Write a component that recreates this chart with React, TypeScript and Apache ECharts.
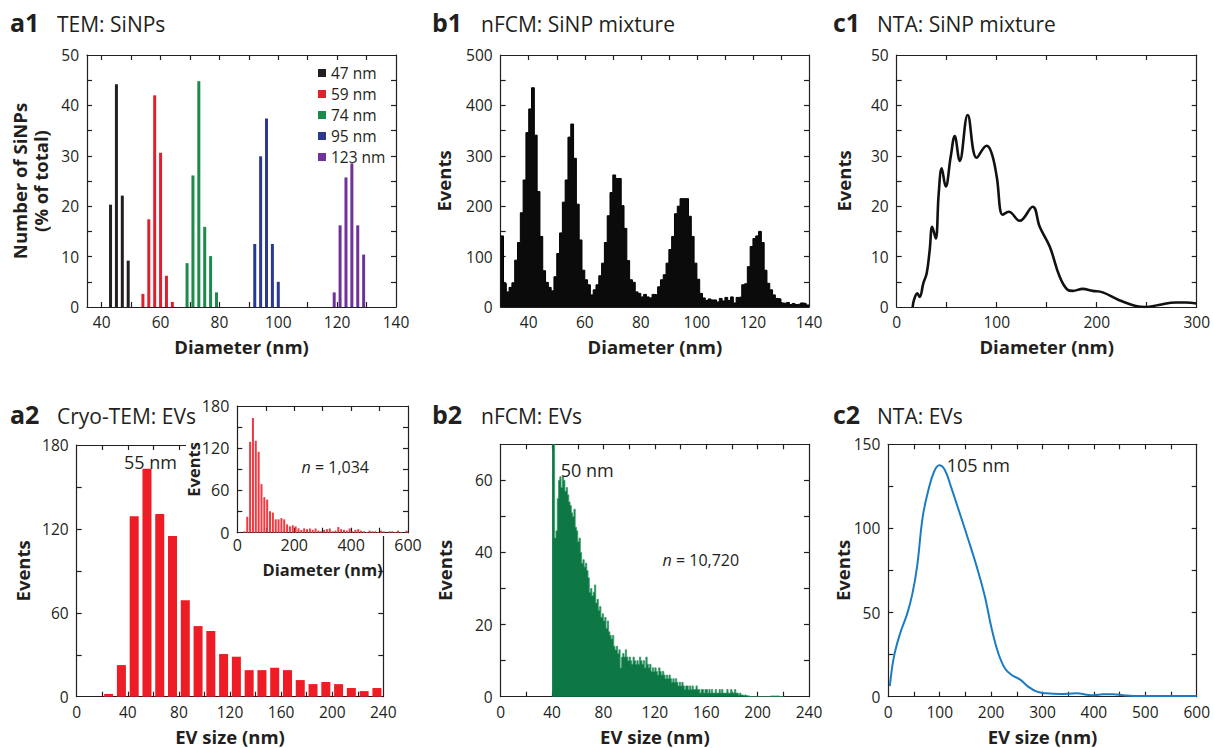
import React, { useEffect, useRef } from "react";
import * as echarts from "echarts";

const INK = "#231f20";
const FONT = "'Open Sans', 'Noto Sans', sans-serif";

// ---------- a1: TEM SiNPs ----------
const sinp47X = [43, 45, 47, 49];
const sinp47Y = [20.3, 44.2, 22.1, 9.2];
const sinp59X = [54, 56, 58, 60, 62, 64];
const sinp59Y = [2.6, 17.4, 42.0, 30.6, 6.2, 1.0];
const sinp74X = [69, 71, 73, 75, 77, 79];
const sinp74Y = [8.7, 26.1, 44.8, 15.9, 10.1, 2.9];
const sinp95X = [92, 94, 96, 98, 100];
const sinp95Y = [12.5, 29.9, 37.4, 12.5, 5.0];
const sinp123X = [119, 121, 123, 125, 127, 129];
const sinp123Y = [2.9, 16.2, 25.7, 28.5, 16.2, 10.4];
const sinpNames = ["47 nm", "59 nm", "74 nm", "95 nm", "123 nm"];
const sinpColors = ["#231f20", "#e0202e", "#1b8a4a", "#2b3990", "#6f329a"];

// ---------- b1: nFCM SiNP mixture (1 nm bins from 30 nm) ----------
const nfcmSinpStart = 30;
const nfcmSinpCounts = [
  141, 47, 30, 39, 48, 93, 128, 187, 252, 346,
  393, 435, 341, 229, 140, 72, 49, 39, 32, 60,
  106, 147, 208, 252, 337, 363, 295, 204, 133, 73,
  54, 44, 24, 34, 44, 62, 87, 128, 181, 227,
  262, 255, 255, 201, 156, 92, 54, 49, 30, 27,
  20, 25, 20, 18, 25, 24, 40, 54, 64, 87,
  114, 140, 185, 200, 215, 215, 215, 180, 140, 87,
  55, 27, 18, 13, 16, 14, 14, 10, 17, 12,
  19, 13, 20, 8, 19, 20, 44, 46, 80, 120,
  136, 141, 150, 128, 73, 47, 34, 24, 17, 16,
  8, 7, 9, 5, 7, 5, 6, 8, 7, 4,
];

// ---------- c1: NTA SiNP mixture ----------
const ntaSinpX = [16, 17.3, 20.6, 23, 26.6, 30, 33, 35.5, 39, 42, 45, 49, 54, 58, 63, 71, 80, 90, 95, 100, 106, 112, 123, 136, 143, 153, 163, 171, 176, 186, 196, 206, 222, 239, 249, 262, 279, 289, 300];
const ntaSinpY = [0, 1.4, 2.7, 2, 4.7, 6.7, 11.3, 15.9, 13.6, 22.5, 27.5, 23.9, 29.8, 33.9, 29, 38.1, 29.6, 32, 30.5, 25.9, 18.3, 18.9, 17.1, 19.9, 15.9, 12, 6, 3.4, 3.2, 3.6, 3.2, 2.9, 1.4, 0.2, 0, 0.4, 0.9, 0.9, 0.7];

// ---------- a2: Cryo-TEM EVs (10 nm bins) ----------
const cryoBins = [25, 35, 45, 55, 65, 75, 85, 95, 105, 115, 125, 135, 145, 155, 165, 175, 185, 195, 205, 215, 225, 235];
const cryoCounts = [2, 22.6, 129, 163, 130.6, 115, 69, 50.5, 47, 30.5, 28.6, 19, 19, 20.7, 19, 11.9, 9, 10.5, 9, 6.2, 4, 6.2];
const cryoTailBins = [245, 255, 265, 275, 285, 295, 305, 315, 325, 335, 345, 355, 365, 375, 385, 395, 405, 415, 425, 435, 445, 455, 465, 475, 485, 495, 505, 515, 525, 535, 545, 555, 565, 575, 585, 595];
const cryoTailCounts = [5, 6, 4, 6, 3, 2, 4, 5, 6, 2, 3, 8, 5, 4, 3, 6, 2, 4, 5, 3, 2, 1, 3, 2, 2, 1, 3, 2, 0, 2, 2, 1, 3, 1, 0, 3];

// ---------- b2: nFCM EVs (1 nm bins from 40 nm) ----------
const nfcmEvStart = 40;
const nfcmEvCounts = [
  84, 71, 44, 46, 55, 60, 61, 58, 61, 60,
  57, 58, 56, 54, 53, 51, 50, 52, 47, 46,
  43, 44, 40, 37, 38, 36, 37, 35, 33, 29,
  30, 28, 29, 31, 26, 27, 24, 25, 22, 23,
  21, 22, 19, 21, 18, 17, 16, 17, 14, 13,
  14, 12, 13, 8, 11, 12, 11, 13, 11, 10,
  11, 10, 9, 11, 10, 9, 10, 9, 11, 10,
  9, 10, 8, 11, 9, 8, 9, 7, 8, 7,
  8, 7, 6, 8, 7, 6, 7, 6, 5, 6,
  5, 6, 5, 4, 5, 4, 5, 4, 3, 4,
  3, 4, 3, 2, 3, 3, 2, 3, 2, 3,
  2, 2, 3, 2, 2, 1, 2, 2, 1, 2,
  2, 1, 2, 1, 2, 1, 1, 2, 1, 1,
  2, 1, 2, 1, 1, 1, 2, 1, 1, 2,
  1, 1, 2, 1, 1, 0.5, 1, 0.5, 0.5, 0.3,
  0.5, 0.3, 0.2, 0.2, 0, 0, 0, 0, 0, 0,
  0, 0, 0, 0, 0, 0, 0, 0, 0, 0,
  0.2, 0.2, 0.2, 0.2, 0.2, 0.2, 0.2, 0, 0, 0,
];

// ---------- c2: NTA EVs ----------
const ntaEvX = [3, 11, 23, 37, 47, 56, 67, 78, 89, 99, 110, 123, 139, 156, 172, 188, 201, 214, 227, 240, 256, 272, 289, 308, 334, 367, 386, 399, 418, 438, 457, 477, 516, 600];
const ntaEvY = [6.3, 23.8, 37.6, 49.5, 61.4, 77.3, 107, 122.8, 133.7, 137.5, 134.7, 123.8, 109, 93, 77.3, 59.4, 40.6, 25.8, 16.8, 12.9, 10.3, 6, 3, 2, 1.6, 2, 1.2, 0.8, 1.4, 1.4, 0.8, 0.4, 0.4, 0.4];

// tick / label values
const range = (a: number, b: number, s: number) => {
  const out: number[] = [];
  for (let v = a; v <= b + 1e-9; v += s) out.push(v);
  return out;
};

type AxisSpec = {
  min: number;
  max: number;
  labels: number[];
  ticks: number[];
  name?: string;
  nameGap?: number;
  fontSize?: number;
  nameSize?: number;
  nameLineHeight?: number;
  labelMargin?: number;
  z?: number;
};

const lineStyle = { color: INK, width: 1.2 };

function xPair(grid: number, s: AxisSpec) {
  const common = {
    type: "value",
    gridIndex: grid,
    min: s.min,
    max: s.max,
    z: s.z ?? 0,
    splitLine: { show: false },
    axisLine: { show: true, onZero: false, lineStyle },
    axisTick: { show: true, inside: true, length: 5, customValues: s.ticks, lineStyle },
  };
  return [
    {
      ...common,
      position: "bottom",
      name: s.name,
      nameLocation: "middle",
      nameGap: s.nameGap ?? 30,
      nameMoveOverlap: false,
      nameTextStyle: { fontFamily: FONT, fontWeight: "bold", fontSize: s.nameSize ?? 18.5, color: INK },
      axisLabel: { show: true, customValues: s.labels, margin: s.labelMargin ?? 7, fontFamily: FONT, fontSize: s.fontSize ?? 15.5, color: INK },
    },
    { ...common, position: "top", axisLabel: { show: false } },
  ];
}

function yPair(grid: number, s: AxisSpec) {
  const common = {
    type: "value",
    gridIndex: grid,
    min: s.min,
    max: s.max,
    z: s.z ?? 0,
    splitLine: { show: false },
    axisLine: { show: true, onZero: false, lineStyle },
    axisTick: { show: true, inside: true, length: 5, customValues: s.ticks, lineStyle },
  };
  return [
    {
      ...common,
      position: "left",
      name: s.name,
      nameLocation: "middle",
      nameGap: s.nameGap ?? 45,
      nameMoveOverlap: false,
      nameTextStyle: {
        fontFamily: FONT,
        fontWeight: "bold",
        fontSize: s.nameSize ?? 18.5,
        color: INK,
        lineHeight: s.nameLineHeight,
        align: "center",
      },
      axisLabel: { show: true, customValues: s.labels, margin: s.labelMargin ?? 8, fontFamily: FONT, fontSize: s.fontSize ?? 15.5, color: INK },
    },
    { ...common, position: "right", axisLabel: { show: false } },
  ];
}

const stepData = (start: number, counts: number[]) => {
  const d = counts.map((v, i) => [start + i, v]);
  d.push([start + counts.length, counts[counts.length - 1]]);
  return d;
};

const textLabel = (coord: number[], formatter: string, fontSize = 18) => ({
  coord,
  symbol: "circle",
  symbolSize: 0,
  label: {
    show: true,
    position: "right",
    distance: 0,
    formatter,
    fontFamily: FONT,
    fontSize,
    color: INK,
    rich: { i: { fontStyle: "italic", fontFamily: FONT, fontSize, color: INK } },
  },
});

function buildOption() {
  const grids = [
    { left: 87, top: 55, width: 309, height: 252 }, // a1
    { left: 500.7, top: 55, width: 308.3, height: 252 }, // b1
    { left: 896.7, top: 55, width: 301, height: 252 }, // c1
    { left: 76.7, top: 445, width: 306.6, height: 251.7 }, // a2
    { left: 500.7, top: 444.3, width: 308.3, height: 252.4 }, // b2
    { left: 888.3, top: 444.3, width: 308.4, height: 252.4 }, // c2
    { left: 237.3, top: 406, width: 170.7, height: 126.7 }, // a2 inset
  ];

  const xAxis = [
    ...xPair(0, { min: 35, max: 140, labels: range(40, 140, 20), ticks: range(40, 130, 10), name: "Diameter (nm)" }),
    ...xPair(1, { min: 30, max: 140, labels: range(40, 140, 20), ticks: range(40, 130, 10), name: "Diameter (nm)" }),
    ...xPair(2, { min: 0, max: 300, labels: range(0, 300, 100), ticks: range(50, 250, 50), name: "Diameter (nm)" }),
    ...xPair(3, { min: 0, max: 240, labels: range(0, 240, 40), ticks: range(20, 220, 20), name: "EV size (nm)" }),
    ...xPair(4, { min: 0, max: 240, labels: range(0, 240, 40), ticks: range(20, 220, 20), name: "EV size (nm)" }),
    ...xPair(5, { min: 0, max: 600, labels: range(0, 600, 100), ticks: range(50, 550, 50), name: "EV size (nm)" }),
    ...xPair(6, { min: 0, max: 600, labels: range(0, 600, 200), ticks: range(100, 500, 100), name: "Diameter (nm)", nameGap: 28, nameSize: 16.5, fontSize: 16, labelMargin: 4, z: 20 }),
  ];
  const yAxis = [
    ...yPair(0, { min: 0, max: 50, labels: range(0, 50, 10), ticks: range(5, 45, 5), name: "Number of SiNPs\n(% of total)", nameGap: 36, nameLineHeight: 21 }),
    ...yPair(1, { min: 0, max: 500, labels: range(0, 500, 100), ticks: range(50, 450, 50), name: "Events", nameGap: 48 }),
    ...yPair(2, { min: 0, max: 50, labels: range(0, 50, 10), ticks: range(5, 45, 5), name: "Events", nameGap: 44 }),
    ...yPair(3, { min: 0, max: 180, labels: range(0, 180, 60), ticks: range(30, 150, 30), name: "Events", nameGap: 45 }),
    ...yPair(4, { min: 0, max: 70, labels: range(0, 60, 20), ticks: range(10, 60, 10), name: "Events", nameGap: 47 }),
    ...yPair(5, { min: 0, max: 150, labels: range(0, 150, 50), ticks: range(25, 125, 25), name: "Events", nameGap: 36 }),
    ...yPair(6, { min: 0, max: 180, labels: range(0, 180, 60), ticks: range(30, 150, 30), name: "Events", nameGap: 35, nameSize: 16.5, fontSize: 16, z: 20 }),
  ];

  const sinpX = [sinp47X, sinp59X, sinp74X, sinp95X, sinp123X];
  const sinpY = [sinp47Y, sinp59Y, sinp74Y, sinp95Y, sinp123Y];

  const series: any[] = [];
  sinpNames.forEach((name, k) => {
    series.push({
      name,
      type: "bar",
      xAxisIndex: 0,
      yAxisIndex: 0,
      barWidth: 3,
      barGap: "-100%",
      itemStyle: { color: sinpColors[k] },
      data: sinpX[k].map((x, i) => [x, sinpY[k][i]]),
    });
  });

  series.push({
    name: "nFCM SiNP",
    type: "line",
    xAxisIndex: 2,
    yAxisIndex: 2,
    step: "end",
    symbol: "none",
    lineStyle: { color: "#000", width: 1 },
    areaStyle: { color: "#0b0b0b", opacity: 1 },
    data: stepData(nfcmSinpStart, nfcmSinpCounts),
  });

  series.push({
    name: "NTA SiNP",
    type: "line",
    xAxisIndex: 4,
    yAxisIndex: 4,
    smooth: 0.4,
    symbol: "none",
    lineStyle: { color: "#111", width: 2.6 },
    data: ntaSinpX.map((x, i) => [x, ntaSinpY[i]]),
  });

  series.push({
    name: "Cryo-TEM EVs",
    type: "bar",
    xAxisIndex: 6,
    yAxisIndex: 6,
    barWidth: 9,
    itemStyle: { color: "#ee1c25" },
    data: cryoBins.map((x, i) => [x, cryoCounts[i]]),
    markPoint: { data: [textLabel([37, 168], "55 nm")] },
  });

  series.push({
    name: "nFCM EVs",
    type: "line",
    xAxisIndex: 8,
    yAxisIndex: 8,
    step: "end",
    symbol: "none",
    clip: true,
    lineStyle: { color: "#3a9c6c", width: 0.8 },
    areaStyle: { color: "#0d7844", opacity: 1 },
    data: stepData(nfcmEvStart, nfcmEvCounts),
    markPoint: {
      data: [textLabel([46.7, 62.9], "50 nm"), textLabel([126, 37.9], "{i|n} = 10,720", 16)],
    },
  });

  series.push({
    name: "NTA EVs",
    type: "line",
    xAxisIndex: 10,
    yAxisIndex: 10,
    smooth: 0.4,
    symbol: "none",
    lineStyle: { color: "#1b7cc3", width: 2 },
    data: ntaEvX.map((x, i) => [x, ntaEvY[i]]),
    markPoint: { data: [textLabel([113.6, 137.7], "105 nm")] },
  });

  series.push({
    name: "Cryo-TEM EVs inset",
    type: "bar",
    xAxisIndex: 12,
    yAxisIndex: 12,
    z: 21,
    barWidth: 2,
    itemStyle: { color: "#ef3a42" },
    data: [...cryoBins.map((x, i) => [x, cryoCounts[i]]), ...cryoTailBins.map((x, i) => [x, cryoTailCounts[i]])],
    markPoint: { z: 22, data: [textLabel([226, 93], "{i|n} = 1,034", 16)] },
  });

  const titles = [
    { tag: "a1", title: "TEM: SiNPs", x: 10, tx: 57, base: 31.7 },
    { tag: "b1", title: "nFCM: SiNP mixture", x: 432, tx: 481, base: 31.7 },
    { tag: "c1", title: "NTA: SiNP mixture", x: 833, tx: 877, base: 31.7 },
    { tag: "a2", title: "Cryo-TEM: EVs", x: 10, tx: 57, base: 423.3 },
    { tag: "b2", title: "nFCM: EVs", x: 432, tx: 481, base: 423.3 },
    { tag: "c2", title: "NTA: EVs", x: 833, tx: 877, base: 423.3 },
  ];
  const graphicEls: any[] = [
    {
      type: "rect",
      z: 10,
      shape: { x: 186, y: 397, width: 226, height: 139 },
      style: { fill: "#ffffff" },
    },
  ];
  titles.forEach((t) => {
    graphicEls.push({
      type: "text",
      z: 30,
      x: t.x,
      y: t.base - 9.3,
      style: { text: t.tag, fill: INK, font: `bold 25px ${FONT}`, verticalAlign: "middle", align: "left" },
    });
    graphicEls.push({
      type: "text",
      z: 30,
      x: t.tx,
      y: t.base - 7.8,
      style: { text: t.title, fill: INK, font: `21px ${FONT}`, verticalAlign: "middle", align: "left" },
    });
  });

  return {
    animation: false,
    backgroundColor: "#ffffff",
    textStyle: { fontFamily: FONT },
    grid: grids,
    xAxis,
    yAxis,
    legend: [
      {
        data: sinpNames,
        orient: "vertical",
        left: 313,
        top: 60,
        itemWidth: 8,
        itemHeight: 8,
        itemGap: 5,
        icon: "rect",
        selectedMode: false,
        textStyle: { fontFamily: FONT, fontSize: 15.5, color: INK, lineHeight: 16 },
      },
    ],
    graphic: { elements: graphicEls },
    series,
  };
}

export default function App() {
  const ref = useRef<HTMLDivElement>(null);
  useEffect(() => {
    if (!ref.current) return;
    const chart = echarts.init(ref.current, undefined, { renderer: "svg" });
    chart.setOption(buildOption() as any);
    return () => chart.dispose();
  }, []);
  return (
    <div
      ref={ref}
      style={{ position: "absolute", left: 0, top: 0, width: 1213, height: 748, background: "#fff" }}
    />
  );
}
